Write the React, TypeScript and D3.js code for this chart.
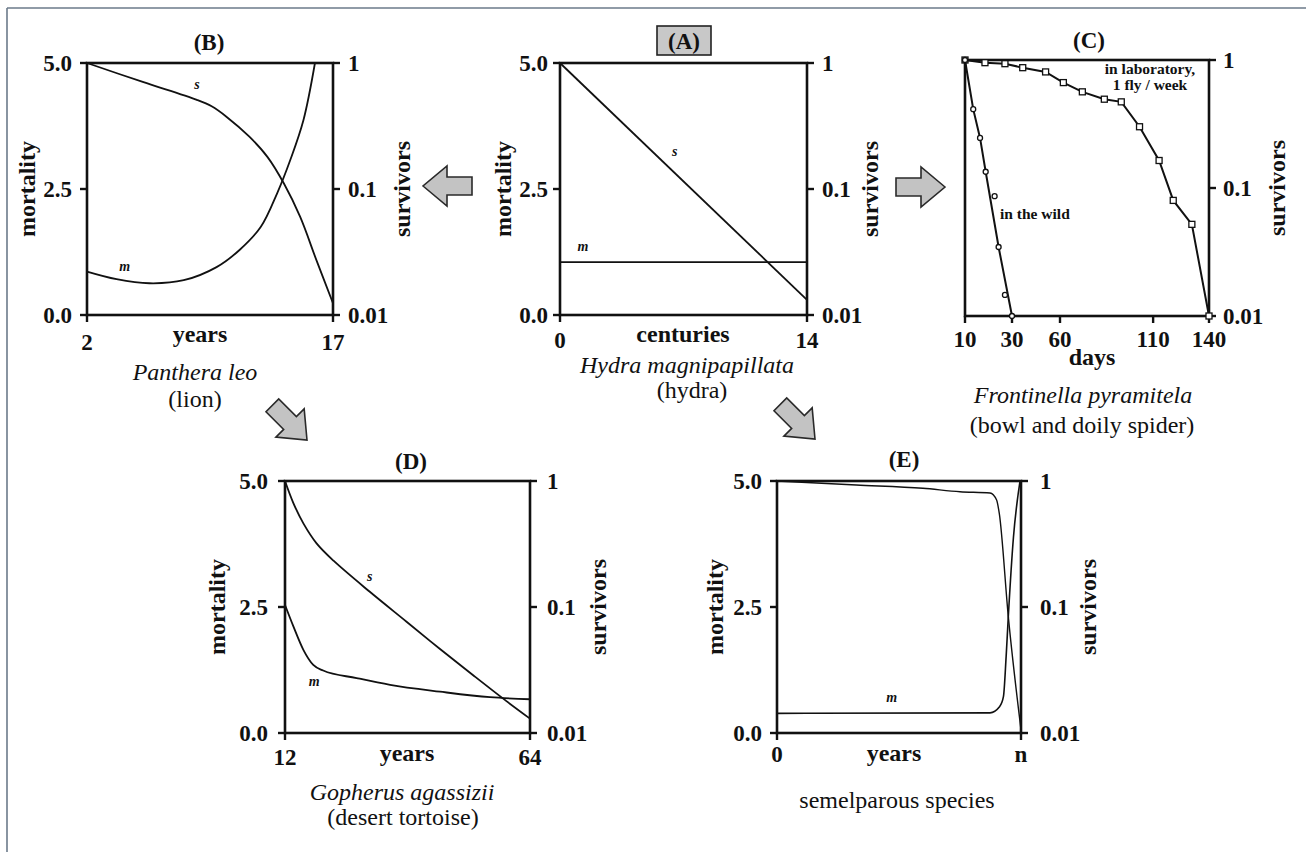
import React from "react";
import * as d3 from "d3";

const FONT = '"Liberation Serif", "Times New Roman", Times, serif';
const INK = "#111";

// ---------- shared axis ticks ----------
const mortalityTicks = [5, 2.5, 0];
const survivorTicks = [1, 0.1, 0.01];
const survivorTickLabels = ["1", "0.1", "0.01"];

// ---------- (B) Panthera leo ----------
const lionTicks = [2, 17];
const lionMAge = [2, 3.8, 5.8, 7.9, 9.9, 11.3, 12.6, 13.6, 14.4, 15.2, 15.9];
const lionM = [0.86, 0.71, 0.63, 0.69, 0.95, 1.29, 1.75, 2.42, 3.08, 3.87, 5.0];
const lionSAge = [2, 5.4, 8.7, 9.6, 10.5, 11.9, 13.0, 14.0, 15.0, 16.0, 17];
const lionS = [1.0, 0.707, 0.51, 0.453, 0.375, 0.26, 0.18, 0.111, 0.06, 0.027, 0.0124];

// ---------- (A) Hydra magnipapillata ----------
const hydraTicks = [0, 14];
const hydraCenturies = [0, 14];
const hydraM = [1.05, 1.05];
const hydraS = [1, 0.0132];

// ---------- (C) Frontinella pyramitela ----------
const spiderTickDays = [10, 30, 60, 110, 140];
const labDays = [10, 18.5, 27, 36.7, 51, 61.8, 72, 83.8, 92.9, 102.7, 113.2, 120.8, 130.8, 140];
const labS = [1, 0.953, 0.936, 0.871, 0.807, 0.666, 0.564, 0.494, 0.471, 0.301, 0.164, 0.08, 0.052, 0.01];
const wildDays = [10, 13.5, 16.4, 18.8, 22.6, 24.3, 27, 30];
const wildS = [1, 0.413, 0.246, 0.134, 0.0863, 0.0346, 0.0146, 0.01];
const wildFitIdx = [0, 1, 2, 3, 5, 7];

// ---------- (D) Gopherus agassizii ----------
const tortoiseTicks = [12, 64];
const tortoiseMAge = [12, 13.8, 15.9, 18.0, 20.1, 27.2, 34.3, 44.9, 55.5, 64];
const tortoiseM = [2.54, 2.11, 1.65, 1.35, 1.24, 1.09, 0.955, 0.82, 0.71, 0.67];
const tortoiseSAge = [12, 13.8, 15.9, 18.7, 22.3, 30.0, 37.8, 44.9, 52.0, 59.0, 64];
const tortoiseS = [1, 0.665, 0.461, 0.32, 0.233, 0.132, 0.0764, 0.0464, 0.0286, 0.0179, 0.013];

// ---------- (E) semelparous species (time as fraction of n) ----------
const semelTicks = [0, 1];
const semelTickLabels = ["0", "n"];
const semelST = [0, 0.325, 0.598, 0.75, 0.873, 0.9, 0.911, 0.948, 1.0];
const semelS = [1, 0.93, 0.875, 0.822, 0.803, 0.707, 0.553, 0.0838, 0.0106];
const semelMT = [0, 0.873, 0.912, 0.928, 0.939, 0.948, 0.969, 0.996];
const semelM = [0.39, 0.4, 0.52, 0.72, 1.51, 2.31, 3.88, 5.0];

type Pt = [number, number];
const zip = (xs: number[], ys: number[]): Pt[] => xs.map((x, i) => [x, ys[i]] as Pt);

interface FrameProps {
  x: d3.ScaleLinear<number, number>;
  m: d3.ScaleLinear<number, number> | null;
  s: d3.ScaleLogarithmic<number, number>;
  xTicks: number[];
  xTickLabels: string[];
  xLabelBaseline: number;
  leftLabelGap?: number;
  rightLabelGap?: number;
  leftTitleOff?: number;
  rightTitleOff?: number;
}

function Frame(p: FrameProps) {
  const xr = p.x.range();
  const L = xr[0];
  const R = xr[xr.length - 1];
  const [B, T] = p.s.range();
  const lg = p.leftLabelGap ?? 14;
  const rg = p.rightLabelGap ?? 15;
  const midY = (T + B) / 2;
  return (
    <g>
      <rect x={L} y={T} width={R - L} height={B - T} fill="none" stroke={INK} strokeWidth={2.6} />
      {p.m &&
        mortalityTicks.map((t) => (
          <g key={"m" + t}>
            <line x1={L - 7} x2={L} y1={p.m!(t)} y2={p.m!(t)} stroke={INK} strokeWidth={2.4} />
            <text x={L - lg} y={p.m!(t)} dy="0.36em" textAnchor="end" fontSize={23} fontWeight="bold">
              {t.toFixed(1)}
            </text>
          </g>
        ))}
      {survivorTicks.map((t, i) => (
        <g key={"s" + t}>
          <line x1={R} x2={R + 7} y1={p.s(t)} y2={p.s(t)} stroke={INK} strokeWidth={2.4} />
          <text x={R + rg} y={p.s(t)} dy="0.36em" textAnchor="start" fontSize={23} fontWeight="bold">
            {survivorTickLabels[i]}
          </text>
        </g>
      ))}
      {p.xTicks.map((t, i) => (
        <g key={"x" + t}>
          <line x1={p.x(t)} x2={p.x(t)} y1={B} y2={B + 7} stroke={INK} strokeWidth={2.4} />
          <text x={p.x(t)} y={p.xLabelBaseline} textAnchor="middle" fontSize={23} fontWeight="bold">
            {p.xTickLabels[i]}
          </text>
        </g>
      ))}
      {p.m && (
        <text
          transform={`translate(${L - (p.leftTitleOff ?? 60)},${midY}) rotate(-90)`}
          dy="0.32em"
          textAnchor="middle"
          fontSize={24}
          fontWeight="bold"
        >
          mortality
        </text>
      )}
      <text
        transform={`translate(${R + (p.rightTitleOff ?? 67)},${midY}) rotate(-90)`}
        dy="0.32em"
        textAnchor="middle"
        fontSize={24}
        fontWeight="bold"
      >
        survivors
      </text>
    </g>
  );
}

function Arrow({ tip, angle }: { tip: Pt; angle: number }) {
  const shape: Pt[] = [
    [0, 0],
    [-24, -20],
    [-24, -9],
    [-49, -9],
    [-49, 9],
    [-24, 9],
    [-24, 20],
  ];
  const d = d3.line()(shape) + "Z";
  return (
    <path
      d={d}
      transform={`translate(${tip[0]},${tip[1]}) rotate(${angle})`}
      fill="#c3c3c3"
      stroke="#2a2a2a"
      strokeWidth={1.6}
      strokeLinejoin="miter"
    />
  );
}

export default function App() {
  // ----- scales -----
  const bx = d3.scaleLinear().domain([2, 17]).range([87, 333]);
  const bm = d3.scaleLinear().domain([0, 5]).range([315, 63]);
  const bs = d3.scaleLog().domain([0.01, 1]).range([315, 63]);

  const ax = d3.scaleLinear().domain([0, 14]).range([560, 807]);
  const am = d3.scaleLinear().domain([0, 5]).range([315, 63]);
  const as = d3.scaleLog().domain([0.01, 1]).range([315, 63]);

  const cx = d3.scaleLinear().domain([10, 30, 60, 140]).range([965, 1012, 1060, 1209]);
  const cs = d3.scaleLog().domain([0.01, 1]).range([316, 60]);

  const dx = d3.scaleLinear().domain([12, 64]).range([285, 530]);
  const dm = d3.scaleLinear().domain([0, 5]).range([733, 481]);
  const ds = d3.scaleLog().domain([0.01, 1]).range([733, 481]);

  const ex = d3.scaleLinear().domain([0, 1]).range([777, 1021]);
  const em = d3.scaleLinear().domain([0, 5]).range([733, 481]);
  const es = d3.scaleLog().domain([0.01, 1]).range([733, 481]);

  const mk = (
    x: (v: number) => number,
    y: (v: number) => number,
    curve: d3.CurveFactory = d3.curveLinear
  ) =>
    d3
      .line<Pt>()
      .x((d) => x(d[0]))
      .y((d) => y(d[1]))
      .curve(curve);

  const smooth = d3.curveMonotoneX;
  const round = d3.curveCatmullRom.alpha(0.5);

  const lineStyle = { fill: "none", stroke: INK, strokeWidth: 1.8, strokeLinejoin: "round" as const };

  const wildAll = zip(wildDays, wildS);
  const wildFit = wildFitIdx.map((i) => wildAll[i]);
  const labPts = zip(labDays, labS);

  const lbl = { textAnchor: "middle" as const, fontSize: 14, fontStyle: "italic", fontWeight: "bold" as const, dy: "0.3em" };

  return (
    <svg
      width={1306}
      height={852}
      style={{ position: "absolute", left: 0, top: 0, background: "#fff" }}
      fontFamily={FONT}
      fill={INK}
    >
      <rect x={0} y={0} width={1306} height={852} fill="#fff" />
      {/* page border */}
      <line x1={7} x2={1306} y1={8} y2={8} stroke="#6b7a8a" strokeWidth={1.6} />
      <line x1={7} x2={7} y1={8} y2={852} stroke="#6b7a8a" strokeWidth={1.6} />

      {/* ================= (B) lion ================= */}
      <text x={209} y={50} textAnchor="middle" fontSize={23} fontWeight="bold">(B)</text>
      <path d={mk(bx, bs, round)(zip(lionSAge, lionS))!} {...lineStyle} />
      <path d={mk(bx, bm, round)(zip(lionMAge, lionM))!} {...lineStyle} />
      <Frame x={bx} m={bm} s={bs} xTicks={lionTicks} xTickLabels={lionTicks.map(String)} xLabelBaseline={350} leftLabelGap={15} rightLabelGap={15} leftTitleOff={60} rightTitleOff={69} />
      <text x={200} y={342} textAnchor="middle" fontSize={24} fontWeight="bold">years</text>
      <text x={bx(8.7)} y={bs(0.67)} {...lbl}>s</text>
      <text x={bx(4.3)} y={bm(0.95)} {...lbl}>m</text>
      <text x={195} y={380} textAnchor="middle" fontSize={24} fontStyle="italic">Panthera leo</text>
      <text x={195} y={407} textAnchor="middle" fontSize={24}>(lion)</text>

      {/* ================= (A) hydra ================= */}
      <rect x={657} y={26} width={54} height={29} fill="#c8c8c8" stroke="#222" strokeWidth={1.6} />
      <text x={684} y={49} textAnchor="middle" fontSize={23} fontWeight="bold">(A)</text>
      <path d={mk(ax, as)(zip(hydraCenturies, hydraS))!} {...lineStyle} />
      <path d={mk(ax, am)(zip(hydraCenturies, hydraM))!} {...lineStyle} />
      <Frame x={ax} m={am} s={as} xTicks={hydraTicks} xTickLabels={hydraTicks.map(String)} xLabelBaseline={348} leftLabelGap={12} rightLabelGap={15} leftTitleOff={57} rightTitleOff={63} />
      <text x={683} y={342} textAnchor="middle" fontSize={24} fontWeight="bold">centuries</text>
      <text x={ax(6.5)} y={as(0.196)} {...lbl}>s</text>
      <text x={ax(1.3)} y={am(1.35)} {...lbl}>m</text>
      <text x={687} y={373} textAnchor="middle" fontSize={24} fontStyle="italic">Hydra magnipapillata</text>
      <text x={692} y={398} textAnchor="middle" fontSize={24}>(hydra)</text>

      {/* ================= (C) spider ================= */}
      <text x={1089} y={48} textAnchor="middle" fontSize={23} fontWeight="bold">(C)</text>
      <path d={mk(cx, cs)(labPts)!} fill="none" stroke={INK} strokeWidth={2} />
      <path d={mk(cx, cs)(wildFit)!} fill="none" stroke={INK} strokeWidth={2} />
      <Frame x={cx} m={null} s={cs} xTicks={spiderTickDays} xTickLabels={spiderTickDays.map(String)} xLabelBaseline={347} rightLabelGap={14} rightTitleOff={68} />
      {labPts.map((d, i) => (
        <rect key={"lab" + i} x={cx(d[0]) - 3} y={cs(d[1]) - 3} width={6} height={6} fill="#fff" stroke={INK} strokeWidth={1.3} />
      ))}
      {wildAll.map((d, i) => (
        <circle key={"wild" + i} cx={cx(d[0])} cy={cs(d[1])} r={2.5} fill="#fff" stroke={INK} strokeWidth={1.3} />
      ))}
      <text x={1150} y={74} textAnchor="middle" fontSize={15.5} fontWeight="bold">in laboratory,</text>
      <text x={1150} y={90} textAnchor="middle" fontSize={15.5} fontWeight="bold">1 fly / week</text>
      <text x={1000} y={219} textAnchor="start" fontSize={15.5} fontWeight="bold">in the wild</text>
      <text x={1092} y={365} textAnchor="middle" fontSize={24} fontWeight="bold">days</text>
      <text x={1083} y={403} textAnchor="middle" fontSize={24} fontStyle="italic">Frontinella pyramitela</text>
      <text x={1082} y={433} textAnchor="middle" fontSize={24}>(bowl and doily spider)</text>

      {/* ================= (D) tortoise ================= */}
      <text x={411} y={469} textAnchor="middle" fontSize={23} fontWeight="bold">(D)</text>
      <path d={mk(dx, ds, round)(zip(tortoiseSAge, tortoiseS))!} {...lineStyle} />
      <path d={mk(dx, dm, smooth)(zip(tortoiseMAge, tortoiseM))!} {...lineStyle} />
      <Frame x={dx} m={dm} s={ds} xTicks={tortoiseTicks} xTickLabels={tortoiseTicks.map(String)} xLabelBaseline={765} leftLabelGap={17} rightLabelGap={17} leftTitleOff={68} rightTitleOff={68} />
      <text x={407} y={761} textAnchor="middle" fontSize={24} fontWeight="bold">years</text>
      <text x={dx(30)} y={ds(0.173)} {...lbl}>s</text>
      <text x={dx(18.2)} y={dm(1.01)} {...lbl}>m</text>
      <text x={402} y={800} textAnchor="middle" fontSize={24} fontStyle="italic">Gopherus agassizii</text>
      <text x={403} y={825} textAnchor="middle" fontSize={24}>(desert tortoise)</text>

      {/* ================= (E) semelparous ================= */}
      <text x={904} y={467} textAnchor="middle" fontSize={23} fontWeight="bold">(E)</text>
      <path d={mk(ex, es, smooth)(zip(semelST, semelS))!} fill="none" stroke={INK} strokeWidth={1.4} />
      <path d={mk(ex, em, smooth)(zip(semelMT, semelM))!} fill="none" stroke={INK} strokeWidth={1.6} />
      <Frame x={ex} m={em} s={es} xTicks={semelTicks} xTickLabels={semelTickLabels} xLabelBaseline={762} leftLabelGap={15} rightLabelGap={19} leftTitleOff={62} rightTitleOff={67} />
      <text x={894} y={761} textAnchor="middle" fontSize={24} fontWeight="bold">years</text>
      <text x={ex(0.47)} y={em(0.69)} {...lbl}>m</text>
      <text x={897} y={808} textAnchor="middle" fontSize={24}>semelparous species</text>

      {/* ================= arrows ================= */}
      <Arrow tip={[423, 186]} angle={180} />
      <Arrow tip={[945, 187]} angle={0} />
      <Arrow tip={[307, 440]} angle={45} />
      <Arrow tip={[815, 439]} angle={45} />
    </svg>
  );
}
